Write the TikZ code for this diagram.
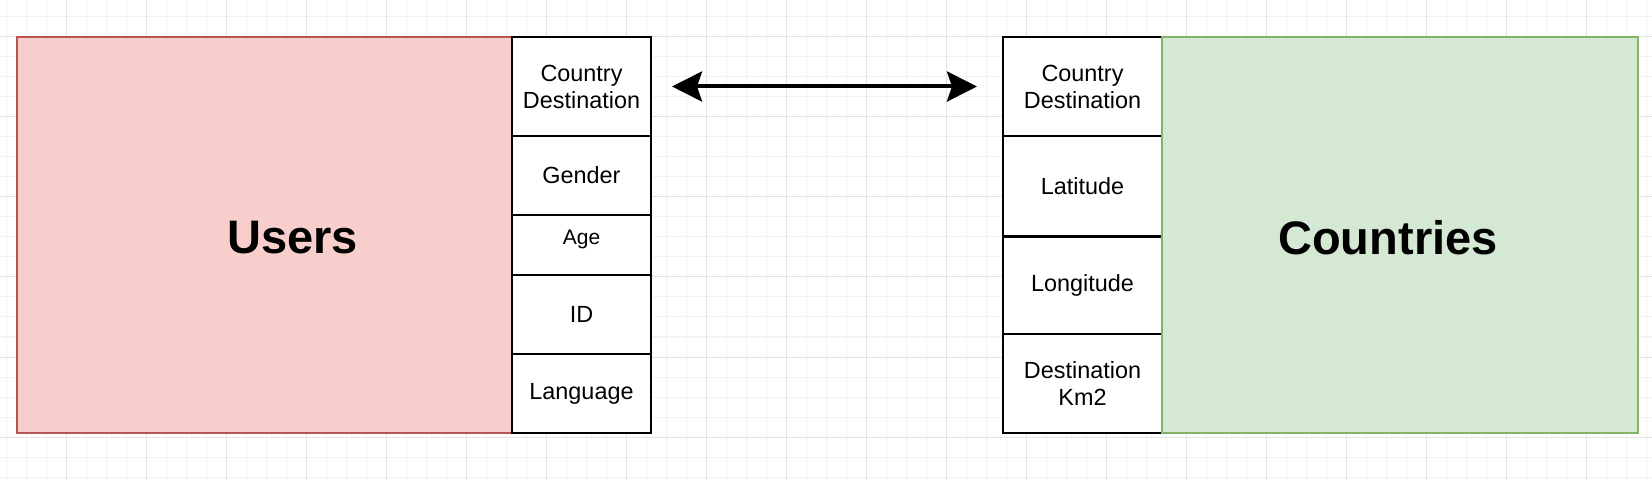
\documentclass[tikz,border=0pt]{standalone}
\usepackage{fontspec}
\setmainfont{Liberation Sans}
\usepackage{xcolor}
\usepackage{tikz}
\usetikzlibrary{arrows.meta, positioning}
\definecolor{usersFill}{HTML}{F8CECC}
\definecolor{usersLine}{HTML}{B85450}
\definecolor{countriesFill}{HTML}{D5E8D4}
\definecolor{countriesLine}{HTML}{82B366}
\definecolor{gridMajor}{HTML}{E2E2E2}
\definecolor{gridMinor}{HTML}{F3F3F3}

\begin{document}
\begin{tikzpicture}[
    x=0.5pt, y=-0.5pt,
    entity/.style={rectangle, draw=#1Line, fill=#1Fill, line width=0.75pt, minimum width=247.5pt, minimum height=198pt, outer sep=0pt},
    field/.style={rectangle, draw=black, fill=white, line width=1pt, minimum width=#1, outer sep=0pt, inner sep=0pt, align=center, font=\fontsize{11.7}{13.5}\selectfont},
    title/.style={font=\fontsize{23.5}{28}\selectfont\bfseries},
    link/.style={{Stealth[length=15pt, width=15pt, inset=2.5pt]}-{Stealth[length=15pt, width=15pt, inset=2.5pt]}, line width=2pt}
]

% Canvas and grid
\fill[white] (0,0) rectangle (1652,480);
\useasboundingbox (0,0) rectangle (1652,480);
\foreach \gx in {6,26,...,1646} \draw[gridMinor, line width=0.5pt] (\gx,0) -- (\gx,480);
\foreach \gy in {17,37,...,477} \draw[gridMinor, line width=0.5pt] (0,\gy) -- (1652,\gy);
\foreach \gx in {66,146,...,1646} \draw[gridMajor, line width=0.5pt] (\gx,0) -- (\gx,480);
\foreach \gy in {37,117,...,477} \draw[gridMajor, line width=0.5pt] (0,\gy) -- (1652,\gy);

% Users table
\node[entity=users, anchor=north west] (users) at (17,37) {};
\node[title] (userstitle) at ([xshift=14pt, yshift=-1.25pt]users.center) {Users};
\node[field=69.5pt, minimum height=49.5pt, below right=0pt and 0pt of users.north east] (ucountry) {Country\\Destination};
\node[field=69.5pt, minimum height=39.5pt, below=0pt of ucountry] (ugender) {Gender};
\node[field=69.5pt, minimum height=30pt, text depth=8pt, below=0pt of ugender, font=\fontsize{10.5}{12}\selectfont] (uage) {Age};
\node[field=69.5pt, minimum height=39.5pt, below=0pt of uage] (uid) {ID};
\node[field=69.5pt, minimum height=39.5pt, below=0pt of uid] (ulanguage) {Language};

% Countries table
\node[field=79.5pt, minimum height=49.5pt, anchor=north west] (ccountry) at (1003,37) {Country\\Destination};
\node[field=79.5pt, minimum height=50pt, below=0pt of ccountry] (clatitude) {Latitude};
\node[field=79.5pt, minimum height=48.5pt, below=0.5pt of clatitude] (clongitude) {Longitude};
\node[field=79.5pt, minimum height=49.5pt, below=0pt of clongitude] (carea) {Destination\\Km2};
\node[entity=countries, minimum width=238pt, below right=0pt and 0pt of ccountry.north east] (countries) {};
\node[title] (countriestitle) at ([xshift=-6pt, yshift=-1.25pt]countries.center) {Countries};

% Link
\draw[link, shorten <=10.5pt, shorten >=13pt] (ucountry) -- (ccountry);

\end{tikzpicture}
\end{document}
